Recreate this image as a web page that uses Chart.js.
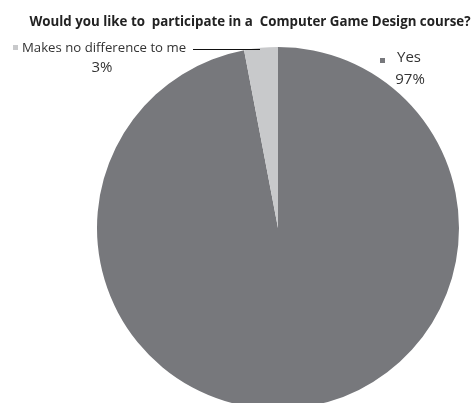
<!DOCTYPE html>
<html>
<head>
<meta charset="utf-8">
<script src="https://cdn.jsdelivr.net/npm/chart.js@4/dist/chart.umd.min.js"></script>
<style>
  html, body { margin: 0; padding: 0; background: #fff; overflow: hidden; }
  #wrap { position: relative; width: 474px; height: 420px; }
</style>
</head>
<body>
<div id="wrap"><canvas id="c"></canvas></div>
<script>
// 饼图数据
var TITLE = 'Would you like to  participate in a  Computer Game Design course?';
var labels = ['Yes', 'Makes no difference to me'];
var values = [97, 3];
var pctLabels = ['97%', '3%'];
var colors = ['#77787c', '#c8c9cb'];

// 标题 + 外部标签 (引线)
var annotate = {
  id: 'annotate',
  afterDraw: function(chart) {
    var ctx = chart.ctx;
    ctx.save();
    ctx.fillStyle = '#222';
    ctx.font = 'bold 13.3px "Open Sans"';
    ctx.textAlign = 'center';
    ctx.textBaseline = 'middle';
    ctx.fillText(TITLE, 250, 22);

    // Yes
    ctx.font = '15px "Open Sans"';
    ctx.fillStyle = colors[0];
    ctx.fillRect(380, 58, 5, 5);
    ctx.fillStyle = '#333';
    ctx.textAlign = 'left';
    ctx.fillText(labels[0], 397, 58);
    ctx.textAlign = 'center';
    ctx.fillText(pctLabels[0], 410, 80);

    // Makes no difference
    ctx.fillStyle = colors[1];
    ctx.fillRect(13, 45, 5, 5);
    ctx.fillStyle = '#333';
    ctx.font = '13.2px "Open Sans"';
    ctx.textAlign = 'left';
    ctx.fillText(labels[1], 22, 48);
    ctx.font = '15px "Open Sans"';
    ctx.textAlign = 'center';
    ctx.fillText(pctLabels[1], 102, 68);

    ctx.strokeStyle = '#111';
    ctx.lineWidth = 1;
    ctx.beginPath();
    ctx.moveTo(193, 49.5);
    ctx.lineTo(260, 49.5);
    ctx.stroke();
    ctx.restore();
  }
};

new Chart(document.getElementById('c'), {
  type: 'pie',
  data: {
    labels: labels,
    datasets: [{
      data: values,
      backgroundColor: colors,
      borderWidth: 0
    }]
  },
  options: {
    responsive: true,
    maintainAspectRatio: false,
    animation: false,
    layout: { padding: { left: 97, right: 15, top: 47, bottom: 11 } },
    plugins: {
      legend: { display: false },
      tooltip: { enabled: false }
    }
  },
  plugins: [annotate]
});
</script>
</body>
</html>
